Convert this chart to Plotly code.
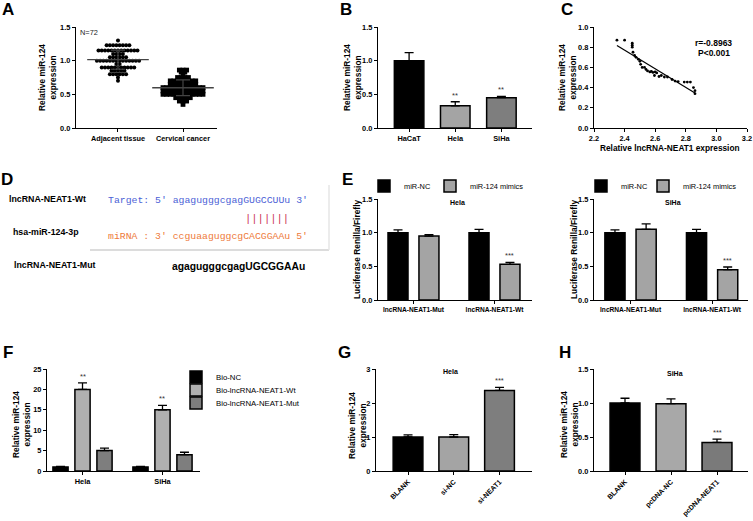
import plotly.graph_objects as go
import numpy as np

W, H = 753, 521
def px(x): return x / W
def py(y): return 1 - y / H

FONT = "Liberation Sans"
MONO = "Liberation Mono"
BLACK = "#000000"
LIGHT = "#a4a4a4"
DARK = "#7e7e7e"

# ---------------- data ----------------
# A : scatter of relative miR-124 (value levels and number of samples at each level)
a_categories = ["Adjacent tissue", "Cervical cancer"]
adjacent_levels = [1.30, 1.23, 1.15, 1.10, 1.05, 1.00, 0.95, 0.90, 0.85, 0.80, 0.75, 0.70]
adjacent_counts = [1, 8, 13, 4, 6, 14, 2, 11, 5, 6, 1, 1]
cancer_levels = [0.86, 0.83, 0.80, 0.75, 0.70, 0.65, 0.60, 0.58, 0.55, 0.50, 0.45, 0.40, 0.35]
cancer_counts = [3, 2, 1, 4, 8, 8, 12, 1, 12, 12, 5, 3, 1]

# B
b_categories = ["HaCaT", "Hela", "SiHa"]
b_values = [1.00, 0.33, 0.45]
b_errors = [0.12, 0.06, 0.02]
b_sig = ["", "**", "**"]

# C
c_x = [2.35, 2.40, 2.45, 2.45, 2.45, 2.455, 2.465, 2.475, 2.49, 2.50, 2.505, 2.515, 2.53, 2.54,
       2.55, 2.565, 2.575, 2.585, 2.595, 2.60, 2.61, 2.625, 2.64, 2.66, 2.68, 2.71, 2.73, 2.75,
       2.79, 2.81, 2.83, 2.85, 2.86, 2.86]
c_y = [0.87, 0.87, 0.84, 0.82, 0.80, 0.75, 0.72, 0.70, 0.68, 0.66, 0.63, 0.60, 0.60, 0.58,
       0.565, 0.555, 0.56, 0.55, 0.52, 0.555, 0.545, 0.51, 0.52, 0.505, 0.505, 0.48, 0.465, 0.46,
       0.455, 0.455, 0.455, 0.40, 0.37, 0.34]
c_stats = ["r=-0.8963", "P<0.001"]

# E
e_categories = ["lncRNA-NEAT1-Mut", "lncRNA-NEAT1-Wt"]
e_series = ["miR-NC", "miR-124 mimics"]
e_hela_nc = [1.00, 1.00]
e_hela_nc_err = [0.04, 0.05]
e_hela_mim = [0.95, 0.53]
e_hela_mim_err = [0.02, 0.03]
e_siha_nc = [1.00, 1.00]
e_siha_nc_err = [0.04, 0.05]
e_siha_mim = [1.05, 0.45]
e_siha_mim_err = [0.08, 0.04]
e_sig = ["", "***"]

# F
f_categories = ["Hela", "SiHa"]
f_series = ["Bio-NC", "Bio-lncRNA-NEAT1-Wt", "Bio-lncRNA-NEAT1-Mut"]
f_nc = [1.0, 1.0]
f_nc_err = [0.1, 0.1]
f_wt = [20.0, 15.0]
f_wt_err = [1.6, 1.1]
f_mut = [5.0, 4.0]
f_mut_err = [0.6, 0.6]
f_sig = ["**", "**"]

# G
g_categories = ["BLANK", "si-NC", "si-NEAT1"]
g_values = [1.00, 1.00, 2.37]
g_errors = [0.06, 0.07, 0.09]
g_sig = ["", "", "***"]

# H
h_categories = ["BLANK", "pcDNA-NC", "pcDNA-NEAT1"]
h_values = [1.00, 0.99, 0.42]
h_errors = [0.07, 0.07, 0.05]
h_sig = ["", "", "***"]

# ---------------- helpers ----------------
def tfont(size):
    return dict(family=FONT, size=size, color="black", weight="bold")

def yax(top, bottom, anchor, rng, dtick, fmt, fs=7.4):
    return dict(domain=[py(bottom), py(top)], anchor=anchor, range=rng, dtick=dtick, tick0=0,
                tickformat=fmt, showline=True, linecolor="black", linewidth=1.3, ticks="outside",
                ticklen=3, tickwidth=1.3, tickcolor="black", showgrid=False, zeroline=False,
                tickfont=tfont(fs), fixedrange=True, automargin=False)

def xax(left, right, anchor, rng, labels=None, angle=0, dtick=None, fmt=None, fs=7.4):
    d = dict(domain=[px(left), px(right)], anchor=anchor, range=rng, showline=True,
             linecolor="black", linewidth=1.3, ticks="outside", ticklen=3, tickwidth=1.3,
             tickcolor="black", showgrid=False, zeroline=False, tickfont=tfont(fs),
             fixedrange=True, tickangle=angle, automargin=False)
    if labels is not None:
        d.update(tickmode="array", tickvals=list(range(len(labels))), ticktext=labels)
    else:
        d.update(dtick=dtick, tick0=0, tickformat=fmt)
    return d

def swarm(levels, counts, center, spacing):
    xs, ys = [], []
    for v, n in zip(levels, counts):
        offs = (np.arange(n) - (n - 1) / 2) * spacing
        xs += list(center + offs)
        ys += [v] * n
    return xs, ys

def err(arr):
    return dict(type="data", symmetric=False, color="black", thickness=1.3, width=4.5,
                array=arr, arrayminus=[0] * len(arr))

fig = go.Figure()
ann = []

def sig_ann(xs, vals, errs, sigs, xr, yr):
    for x, v, e, s in zip(xs, vals, errs, sigs):
        if s:
            ann.append(dict(x=x, y=v + e, xref=xr, yref=yr, text=s, showarrow=False,
                            yanchor="bottom", yshift=0, font=dict(family=FONT, size=7.5, color="#333")))

# ---------------- A ----------------
ax_x, ax_y = swarm(adjacent_levels, adjacent_counts, 0, 0.05)
cx_x, cx_y = swarm(cancer_levels, cancer_counts, 1, 0.056)
fig.add_trace(go.Scatter(x=ax_x, y=ax_y, mode="markers", xaxis="x", yaxis="y", showlegend=False,
                         marker=dict(symbol="circle", size=4, color="black")))
fig.add_trace(go.Scatter(x=cx_x, y=cx_y, mode="markers", xaxis="x", yaxis="y", showlegend=False,
                         marker=dict(symbol="square", size=4.8, color="black")))
means = [float(np.mean(ax_y)), float(np.mean(cx_y))]
sds = [float(np.std(ax_y)), float(np.std(cx_y))]
fig.add_trace(go.Scatter(x=[0, 1], y=means, mode="markers", xaxis="x", yaxis="y", showlegend=False,
                         marker=dict(symbol="line-ew", size=44, line=dict(width=1.4, color="#444")),
                         error_y=dict(type="data", array=sds, color="#444", thickness=1.2, width=7)))

# ---------------- B ----------------
bx = list(range(len(b_categories)))
fig.add_trace(go.Bar(x=bx, y=b_values, xaxis="x2", yaxis="y2", width=0.64, showlegend=False,
                     marker=dict(color=[BLACK, LIGHT, DARK], line=dict(color="black", width=1.5)),
                     error_y=err(b_errors)))
sig_ann(bx, b_values, b_errors, b_sig, "x2", "y2")

# ---------------- C ----------------
fig.add_trace(go.Scatter(x=c_x, y=c_y, mode="markers", xaxis="x3", yaxis="y3", showlegend=False,
                         marker=dict(size=2.8, color="black")))
slope, intercept = np.polyfit(c_x, c_y, 1)
fx = np.array([min(c_x), max(c_x)])
fig.add_trace(go.Scatter(x=fx, y=slope * fx + intercept, mode="lines", xaxis="x3", yaxis="y3",
                         showlegend=False, line=dict(color="black", width=1.2)))

# ---------------- E ----------------
BW = 0.247
HALF = 0.191
ex = list(range(len(e_categories)))
for xa, ya, nc, nce, mim, mime, lg1, lg2 in [
        ("x4", "y4", e_hela_nc, e_hela_nc_err, e_hela_mim, e_hela_mim_err, "legend2", "legend3"),
        ("x5", "y5", e_siha_nc, e_siha_nc_err, e_siha_mim, e_siha_mim_err, "legend4", "legend5")]:
    fig.add_trace(go.Bar(x=ex, y=nc, xaxis=xa, yaxis=ya, width=BW, offset=-HALF - BW / 2,
                         name=e_series[0], legend=lg1,
                         marker=dict(color=BLACK, line=dict(color="black", width=1.5)),
                         error_y=err(nce)))
    fig.add_trace(go.Bar(x=ex, y=mim, xaxis=xa, yaxis=ya, width=BW, offset=HALF - BW / 2,
                         name=e_series[1], legend=lg2,
                         marker=dict(color=LIGHT, line=dict(color="black", width=1.5)),
                         error_y=err(mime)))
    sig_ann([x + HALF for x in ex], mim, mime, e_sig, xa, ya)

# ---------------- F ----------------
FW = 0.19
FS = 0.275
fx_ = list(range(len(f_categories)))
for k, (vals, errs, col, lg) in enumerate([(f_nc, f_nc_err, BLACK, "legend"),
                                            (f_wt, f_wt_err, "#b0b0b0", "legend6"),
                                            (f_mut, f_mut_err, DARK, "legend7")]):
    off = (k - 1) * FS
    fig.add_trace(go.Bar(x=fx_, y=vals, xaxis="x6", yaxis="y6", width=FW, offset=off - FW / 2,
                         name=f_series[k], legend=lg,
                         marker=dict(color=col, line=dict(color="black", width=1.5)),
                         error_y=err(errs)))
sig_ann(fx_, f_wt, f_wt_err, f_sig, "x6", "y6")

# ---------------- G ----------------
gx = list(range(len(g_categories)))
fig.add_trace(go.Bar(x=gx, y=g_values, xaxis="x7", yaxis="y7", width=0.65, showlegend=False,
                     marker=dict(color=[BLACK, LIGHT, DARK], line=dict(color="black", width=1.5)),
                     error_y=err(g_errors)))
sig_ann(gx, g_values, g_errors, g_sig, "x7", "y7")

# ---------------- H ----------------
hx = list(range(len(h_categories)))
fig.add_trace(go.Bar(x=hx, y=h_values, xaxis="x8", yaxis="y8", width=0.65, showlegend=False,
                     marker=dict(color=[BLACK, "#a8a8a8", "#7a7a7a"], line=dict(color="black", width=1.5)),
                     error_y=err(h_errors)))
sig_ann(hx, h_values, h_errors, h_sig, "x8", "y8")

# ---------------- text annotations ----------------
def txt(x, y, s, size=8.4, bold=True, color="black", family=FONT, xanchor="center", angle=0):
    ann.append(dict(x=px(x), y=py(y), xref="paper", yref="paper", text=s, showarrow=False,
                    xanchor=xanchor, yanchor="middle", textangle=angle, borderpad=0,
                    font=dict(family=family, size=size, color=color,
                              weight="bold" if bold else "normal")))

# panel letters
for L, x, y in [("A", 1, 10), ("B", 339, 10), ("C", 560, 10), ("D", 0, 179),
                ("E", 341, 179), ("F", 2, 352), ("G", 337, 352), ("H", 558, 352)]:
    txt(x, y, L, size=17, xanchor="left")

# y-axis titles
YT = "Relative miR-124<br>expression"
txt(48, 78, YT, angle=-90)
txt(353, 78, YT, angle=-90)
txt(568, 78, YT, angle=-90)
txt(357, 250, "Luciferase Renilla/Firefly", angle=-90)
txt(574, 250, "Luciferase Renilla/Firefly", angle=-90)
txt(21, 425, YT, angle=-90)
txt(357, 426, YT, angle=-90)
txt(569, 425, YT, angle=-90)
# C x title and stats
txt(670, 148, "Relative lncRNA-NEAT1 expression", size=8.3)
txt(713, 43, c_stats[0], size=8.5)
txt(714, 53, c_stats[1], size=8.5)
# A note
txt(79, 33, "N=72", size=7.4, bold=False, xanchor="left", color="#222")
# in-panel titles
txt(457, 202, "Hela", size=7)
txt(673, 202, "SiHa", size=7)
txt(450, 372, "Hela", size=7)
txt(675, 373, "SiHa", size=7)

# D panel
txt(8, 199, "lncRNA-NEAT1-Wt", size=8.8, xanchor="left")
txt(12, 232, "hsa-miR-124-3p", size=8.8, xanchor="left")
txt(13, 265, "lncRNA-NEAT1-Mut", size=8.8, xanchor="left")
txt(107, 200, "Target: 5' agagugggcgagGUGCCUUu 3'", size=9.8, bold=False,
    color="#4b5fd6", family=MONO, xanchor="left")
txt(244, 219, "|||||||", size=10.5, bold=False, color="#cc3355", family=MONO, xanchor="left")
txt(107, 236, "miRNA : 3' ccguaaguggcgCACGGAAu 5'", size=9.8, bold=False,
    color="#ee7a3a", family=MONO, xanchor="left")
txt(171, 266, "agagugggcgagUGCGGAAu", size=10.3, xanchor="left")

shapes = [
    dict(type="line", xref="paper", yref="paper", x0=px(90), x1=px(329), y0=py(250), y1=py(250),
         line=dict(color="#dcdcdc", width=2)),
    dict(type="line", xref="paper", yref="paper", x0=px(329), x1=px(329), y0=py(185), y1=py(250),
         line=dict(color="#e6e6e6", width=1.5)),
]

def leg(x, y, size=7.8):
    return dict(x=px(x), y=py(y), xanchor="left", yanchor="middle", bgcolor="rgba(0,0,0,0)",
                font=dict(family=FONT, size=size, color="black"), borderwidth=0, orientation="v")

fig.update_layout(
    width=W, height=H, margin=dict(l=0, r=0, t=0, b=0, pad=0, autoexpand=False),
    paper_bgcolor="white", plot_bgcolor="white", barmode="overlay",
    font=dict(family=FONT, color="black"),
    xaxis=xax(76, 217, "y", [-0.646, 1.523], a_categories, fs=7.3),
    yaxis=yax(27, 128, "x", [0, 1.5], 0.5, ".1f"),
    xaxis2=xax(378, 532, "y2", [-0.674, 2.663], b_categories),
    yaxis2=yax(27, 128, "x2", [0, 1.5], 0.5, ".1f"),
    xaxis3=xax(594, 747, "y3", [2.2, 3.2], None, dtick=0.2, fmt=".1f"),
    yaxis3=yax(27, 128, "x3", [0, 1.0], 0.2, ".1f"),
    xaxis4=xax(378, 532, "y4", [-0.438, 1.463], e_categories, fs=6.6),
    yaxis4=yax(199, 300, "x4", [0, 1.5], 0.5, ".1f"),
    xaxis5=xax(594, 748, "y5", [-0.448, 1.44], e_categories, fs=6.6),
    yaxis5=yax(199, 300, "x5", [0, 1.5], 0.5, ".1f"),
    xaxis6=xax(47, 200, "y6", [-0.444, 1.469], f_categories),
    yaxis6=yax(369, 471, "x6", [0, 25], 5, "d"),
    xaxis7=xax(376, 532, "y7", [-0.70, 2.71], g_categories, angle=-45, fs=7),
    yaxis7=yax(369, 471, "x7", [0, 3], 1, "d"),
    xaxis8=xax(594, 748, "y8", [-0.674, 2.674], h_categories, angle=-45, fs=7),
    yaxis8=yax(369, 471, "x8", [0, 1.5], 0.5, ".1f"),
    legend=leg(176, 377),
    legend6=leg(176, 390),
    legend7=leg(176, 403),
    legend2=leg(364, 186, 7.4),
    legend3=leg(430, 186, 7.4),
    legend4=leg(581, 186, 7.4),
    legend5=leg(643, 186, 7.4),
    annotations=ann,
    shapes=shapes,
)

fig.write_html("out.html", config={"displayModeBar": False},
               post_script="document.body.style.margin='0px';")
